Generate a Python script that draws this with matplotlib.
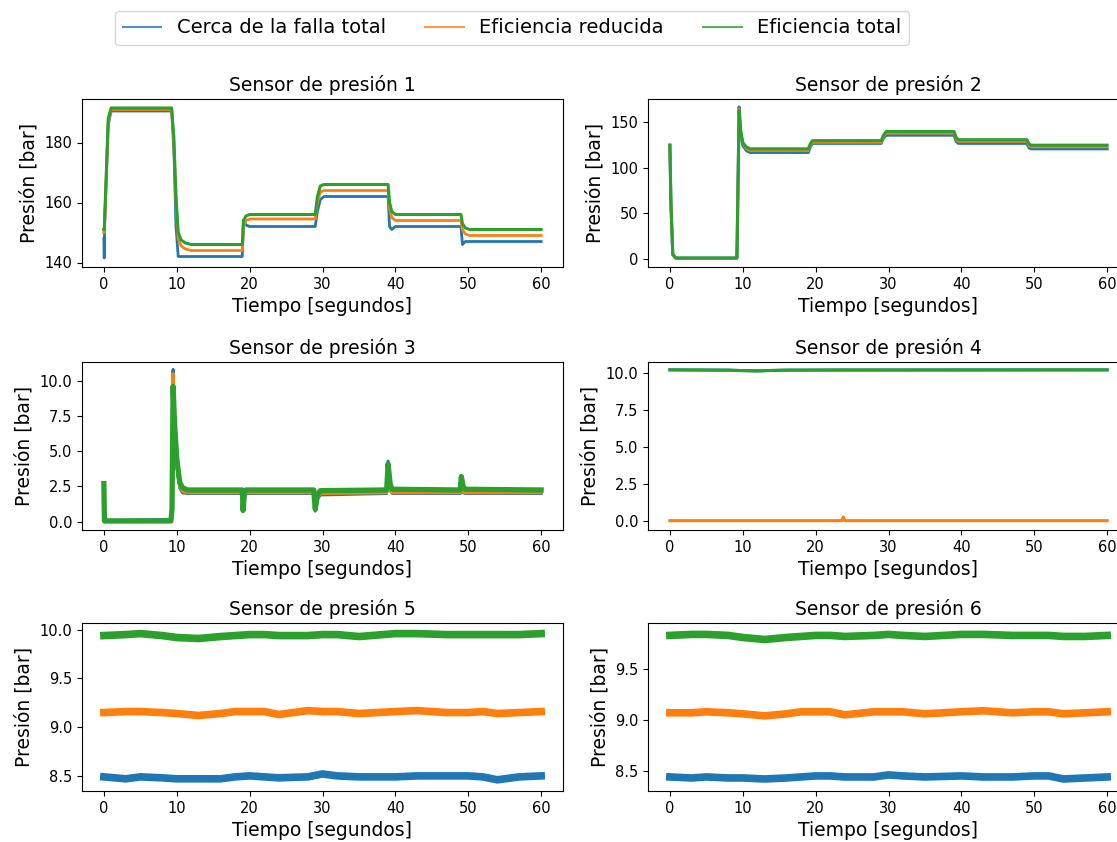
import matplotlib.pyplot as plt
from matplotlib.lines import Line2D

labels = ["Cerca de la falla total", "Eficiencia reducida", "Eficiencia total"]
colors = ["#1f77b4", "#ff7f0e", "#2ca02c"]

# sensor 1
t1 = [0, 0.05, 0.1, 0.6, 1.0, 9.3, 9.6, 9.9, 10.2, 10.6, 11.2, 12.0, 19.0, 19.15, 19.5, 20.0,
      29.0, 29.3, 29.7, 30.2, 39.0, 39.2, 39.5, 40.0, 49.0, 49.2, 49.6, 50.2, 60.0]
s1_falla = [148, 141.5, 152, 186, 190.5, 190.5, 178, 152, 142, 142, 142, 142, 142, 154, 152.5, 152,
            152, 157, 161, 162, 162, 152, 151, 152, 152, 146, 147, 147, 147]
s1_reducida = [150, 150, 153, 187, 191, 191, 180, 160, 148, 145.5, 144.5, 144, 144, 152, 154, 154.5,
               154.5, 160, 163.5, 164, 164, 158, 155, 154, 154, 151, 149.5, 149, 149]
s1_total = [151, 151, 154, 188, 191.5, 191.5, 182, 162, 150, 147.5, 146.5, 146, 146, 154, 155.5, 156,
            156, 162, 165.5, 166, 166, 160, 157, 156, 156, 153, 151.5, 151, 151]

# sensor 2
t2 = [0, 0.15, 0.4, 0.8, 9.2, 9.35, 9.5, 9.7, 10.0, 10.5, 11.0, 19.0, 19.3, 19.6,
      29.0, 29.3, 29.7, 39.0, 39.3, 39.6, 49.0, 49.3, 49.6, 60.0]
s2_falla = [125, 60, 5, 1, 1, 80, 167, 140, 125, 119, 117, 117, 124, 127,
            127, 133, 136, 136, 129, 127, 127, 122, 121, 121]
s2_reducida = [125, 60, 5, 1, 1, 80, 165, 140, 127, 121, 119, 119, 125, 128,
               128, 134, 138, 138, 131, 129, 129, 124, 123, 123]
s2_total = [125, 60, 5, 1, 1, 80, 163, 142, 128, 123, 121, 121, 127, 130,
            130, 136, 140, 140, 133, 131, 131, 126, 125, 125]

# sensor 3
t3 = [0, 0.08, 0.2, 9.2, 9.35, 9.5, 9.7, 10.0, 10.4, 10.8, 11.5, 19.0, 19.1, 19.3, 19.5,
      28.8, 29.0, 29.3, 29.7, 38.8, 39.0, 39.3, 39.6, 48.9, 49.05, 49.3, 49.6, 60.0]
s3_falla = [2.6, 0.1, 0.1, 0.15, 1.0, 10.8, 7.0, 4.0, 2.4, 2.05, 2.0, 2.0, 0.8, 1.9, 2.0,
            2.0, 0.75, 1.6, 1.9, 2.0, 4.3, 2.2, 2.0, 2.0, 2.2, 2.05, 2.0, 2.0]
s3_reducida = [2.6, 0.05, 0.05, 0.05, 1.0, 10.5, 7.0, 4.0, 2.5, 2.15, 2.05, 2.05, 0.7, 1.9, 2.05,
               2.05, 0.9, 1.7, 2.0, 2.05, 2.5, 2.2, 2.05, 2.05, 2.3, 2.1, 2.05, 2.05]
s3_total = [2.7, 0.05, 0.05, 0.05, 0.9, 9.6, 7.0, 4.5, 2.8, 2.4, 2.25, 2.25, 0.8, 2.1, 2.25,
            2.25, 0.9, 1.9, 2.2, 2.25, 4.1, 2.6, 2.3, 2.25, 3.2, 2.5, 2.3, 2.25]

# sensor 4
t4 = [0, 8, 10, 12, 14, 16, 23.6, 23.8, 24.0, 60]
s4_falla = [10.22, 10.2, 10.17, 10.15, 10.18, 10.2, 10.21, 10.21, 10.21, 10.22]
s4_reducida = [0.05, 0.05, 0.05, 0.05, 0.05, 0.05, 0.05, 0.3, 0.05, 0.05]
s4_total = [10.22, 10.2, 10.17, 10.15, 10.18, 10.2, 10.21, 10.21, 10.21, 10.22]

# sensor 5
t5 = [0, 3, 5, 8, 10, 13, 16, 18, 20, 22, 24, 28, 30, 32, 35, 40, 43, 47, 50, 52, 54, 57, 60]
s5_falla = [8.49, 8.47, 8.49, 8.48, 8.47, 8.47, 8.47, 8.49, 8.50, 8.49, 8.48, 8.49, 8.52, 8.50,
            8.49, 8.49, 8.50, 8.50, 8.50, 8.49, 8.46, 8.49, 8.50]
s5_reducida = [9.15, 9.16, 9.16, 9.15, 9.14, 9.12, 9.14, 9.16, 9.16, 9.16, 9.13, 9.17, 9.16, 9.16,
               9.14, 9.16, 9.17, 9.15, 9.15, 9.16, 9.14, 9.15, 9.16]
s5_total = [9.94, 9.95, 9.96, 9.94, 9.92, 9.91, 9.93, 9.94, 9.95, 9.95, 9.94, 9.94, 9.95, 9.95,
            9.93, 9.96, 9.96, 9.95, 9.95, 9.95, 9.95, 9.95, 9.96]

# sensor 6
t6 = [0, 3, 5, 8, 10, 13, 16, 18, 20, 22, 24, 28, 30, 32, 35, 40, 43, 47, 50, 52, 54, 57, 60]
s6_falla = [8.44, 8.43, 8.44, 8.43, 8.43, 8.42, 8.43, 8.44, 8.45, 8.45, 8.44, 8.44, 8.46, 8.45,
            8.44, 8.45, 8.44, 8.44, 8.45, 8.45, 8.42, 8.43, 8.44]
s6_reducida = [9.07, 9.07, 9.08, 9.07, 9.06, 9.04, 9.06, 9.08, 9.08, 9.08, 9.05, 9.08, 9.08, 9.08,
               9.06, 9.08, 9.09, 9.07, 9.08, 9.08, 9.06, 9.07, 9.08]
s6_total = [9.83, 9.84, 9.84, 9.83, 9.81, 9.79, 9.81, 9.82, 9.83, 9.83, 9.82, 9.83, 9.84, 9.83,
            9.82, 9.84, 9.84, 9.83, 9.83, 9.83, 9.82, 9.82, 9.83]

sensores = [
    (t1, [s1_falla, s1_reducida, s1_total], (138.5, 194.5), [140, 160, 180], [2.0, 2.0, 2.2]),
    (t2, [s2_falla, s2_reducida, s2_total], (-8.8, 175.7), [0, 50, 100, 150], [2.2, 1.8, 2.2]),
    (t3, [s3_falla, s3_reducida, s3_total], (-0.59, 11.33), [0, 2.5, 5, 7.5, 10], [2.2, 2.2, 3.8]),
    (t4, [s4_falla, s4_reducida, s4_total], (-0.58, 10.75), [0, 2.5, 5, 7.5, 10], [2.2, 2.2, 2.2]),
    (t5, [s5_falla, s5_reducida, s5_total], (8.345, 10.069), [8.5, 9.0, 9.5, 10.0], [5.5, 5.5, 5.5]),
    (t6, [s6_falla, s6_reducida, s6_total], (8.302, 9.952), [8.5, 9.0, 9.5], [5.5, 5.5, 5.5]),
]

W, H = 1117, 842
fig = plt.figure(figsize=(W / 100, H / 100), dpi=100)

lefts = [82, 648]
tops = [99, 362, 623]
aw, ah = 481, 168

for i, (t, series, ylim, yticks, widths) in enumerate(sensores):
    fila, col = divmod(i, 2)
    ax = fig.add_axes([lefts[col] / W, 1 - (tops[fila] + ah) / H, aw / W, ah / H])
    for y, c, lw in zip(series, colors, widths):
        ax.plot(t, y, color=c, lw=lw)
    ax.set_xlim(-3, 63)
    ax.set_ylim(*ylim)
    ax.set_xticks([0, 10, 20, 30, 40, 50, 60])
    ax.set_yticks(yticks)
    if i in (2, 3):
        ax.set_yticklabels(["0.0", "2.5", "5.0", "7.5", "10.0"])
    ax.tick_params(labelsize=10.5)
    ax.set_title(f"Sensor de presión {i + 1}", fontsize=13.5)
    ax.set_xlabel("Tiempo [segundos]", fontsize=13.5)
    ax.set_ylabel("Presión [bar]", fontsize=13.5)

handles = [Line2D([], [], color=c, lw=1.5, alpha=0.8) for c in colors]
fig.legend(handles, labels, loc="upper center", ncol=3, fontsize=14,
           bbox_to_anchor=(512 / W, 1 - 1 / H))

fig.savefig("out.png", dpi=100)
